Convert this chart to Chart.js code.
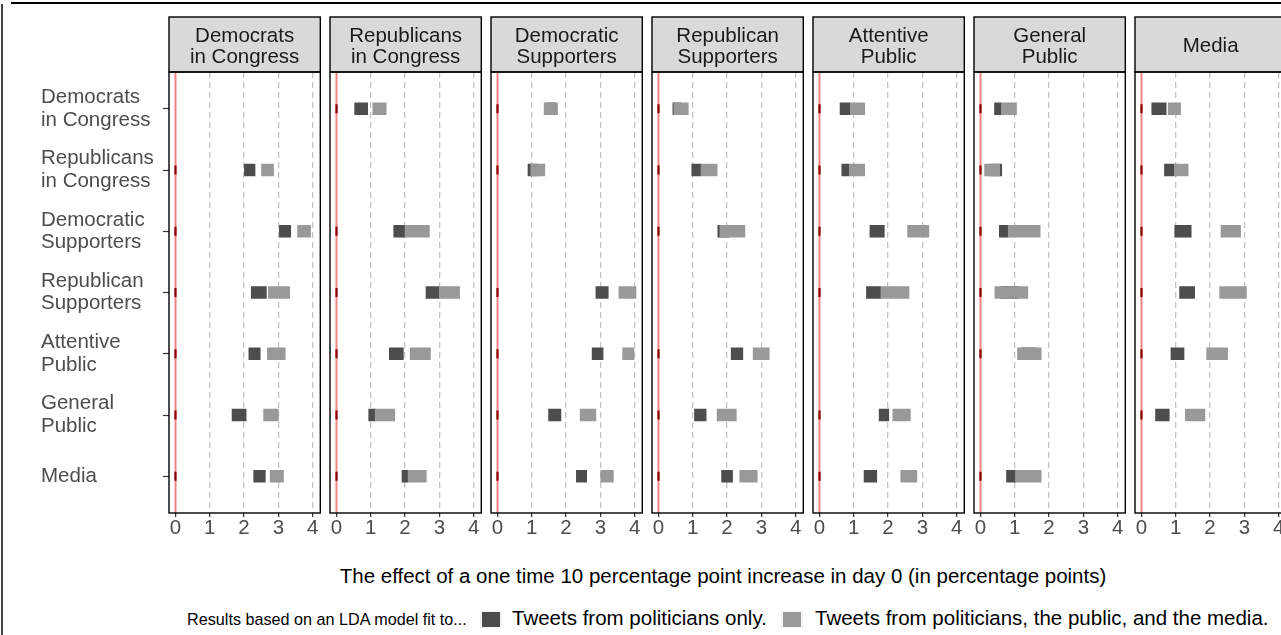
<!DOCTYPE html>
<html><head><meta charset="utf-8">
<script src="https://cdn.jsdelivr.net/npm/chart.js@4.4.1/dist/chart.umd.min.js"></script>
<style>
html,body{margin:0;padding:0;background:#fff;overflow:hidden;}
#wrap{position:relative;width:1281px;height:635px;overflow:hidden;background:#fff;font-family:"Liberation Sans",Arial,Helvetica,sans-serif;}
#wrap canvas{position:absolute;}
.t{position:absolute;white-space:nowrap;}
</style></head>
<body><div id="wrap">
<div style="position:absolute;left:11px;top:2px;width:1275px;height:1.5px;background:#000;"></div>
<div style="position:absolute;left:1px;top:4px;width:1.5px;height:640px;background:#444;"></div>
<div class="t" id="xtitle" style="left:723px;top:564px;font-size:20.5px;line-height:24px;color:#000;transform:translateX(-50%);">The effect of a one time 10 percentage point increase in day 0 (in percentage points)</div>
<div class="t" style="left:187px;top:610px;font-size:16.2px;line-height:18px;color:#000;">Results based on an LDA model fit to...</div>
<div style="position:absolute;left:480px;top:611px;width:22px;height:17px;background:#f2f2f2;"><div style="position:absolute;left:2px;top:1px;width:18px;height:15px;background:#4d4d4d;"></div></div>
<div class="t" style="left:512px;top:606px;font-size:20.5px;line-height:24px;color:#000;">Tweets from politicians only.</div>
<div style="position:absolute;left:781px;top:611px;width:22px;height:17px;background:#f2f2f2;"><div style="position:absolute;left:2px;top:1px;width:18px;height:15px;background:#999999;"></div></div>
<div class="t" style="left:815px;top:606px;font-size:20.5px;line-height:24px;color:#000;">Tweets from politicians, the public, and the media.</div>
</div>
<script>
// ---- data ----
const categories = ["Democrats in Congress","Republicans in Congress","Democratic Supporters","Republican Supporters","Attentive Public","General Public","Media"];
const categoryLabels = [["Democrats","in Congress"],["Republicans","in Congress"],["Democratic","Supporters"],["Republican","Supporters"],["Attentive","Public"],["General","Public"],["Media"]];
const xTicks = [0,1,2,3,4];
const sameDayEffect = [0,0,0,0,0,0,0];

// [low, high] per row (rows = categories); "Politicians" = model fit on politicians' tweets only, "All" = politicians, public and media
const demCongressPoliticians = [null,[2.01,2.32],[3.03,3.36],[2.21,2.65],[2.14,2.47],[1.65,2.06],[2.28,2.62]];
const demCongressAll         = [null,[2.51,2.86],[3.56,3.94],[2.71,3.33],[2.68,3.20],[2.57,3.00],[2.76,3.15]];
const repCongressPoliticians = [[0.53,0.91],null,[1.67,2.00],[2.61,3.00],[1.54,1.95],[0.94,1.13],[1.91,2.09]];
const repCongressAll         = [[1.06,1.45],null,[2.00,2.71],[3.00,3.59],[2.15,2.74],[1.13,1.70],[2.09,2.62]];
const demSupportersPoliticians = [[1.42,1.68],[0.89,1.15],null,[2.87,3.23],[2.76,3.08],[1.49,1.85],[2.30,2.60]];
const demSupportersAll         = [[1.36,1.75],[0.97,1.38],null,[3.54,4.04],[3.65,3.98],[2.41,2.87],[3.01,3.38]];
const repSupportersPoliticians = [[0.42,0.65],[0.97,1.24],[1.73,2.05],null,[2.12,2.46],[1.05,1.39],[1.84,2.16]];
const repSupportersAll         = [[0.45,0.87],[1.24,1.71],[1.79,2.52],null,[2.76,3.23],[1.71,2.27],[2.37,2.88]];
const attentivePoliticians = [[0.60,0.90],[0.65,0.87],[1.47,1.89],[1.37,1.79],null,[1.74,2.02],[1.30,1.67]];
const attentiveAll         = [[0.90,1.32],[0.87,1.32],[2.57,3.19],[1.79,2.61],null,[2.14,2.65],[2.37,2.84]];
const generalPoliticians = [[0.41,0.61],[0.30,0.62],[0.55,0.81],[0.60,1.10],[1.20,1.60],null,[0.76,1.02]];
const generalAll         = [[0.61,1.05],[0.12,0.56],[0.81,1.74],[0.42,1.38],[1.08,1.77],null,[1.02,1.77]];
const mediaPoliticians = [[0.30,0.72],[0.67,0.96],[0.97,1.45],[1.11,1.55],[0.86,1.24],[0.41,0.81],null];
const mediaAll         = [[0.78,1.14],[0.96,1.36],[2.32,2.89],[2.28,3.06],[1.90,2.51],[1.28,1.85],null];

const panels = [
  {label: categoryLabels[0], dark: demCongressPoliticians, light: demCongressAll},
  {label: categoryLabels[1], dark: repCongressPoliticians, light: repCongressAll},
  {label: categoryLabels[2], dark: demSupportersPoliticians, light: demSupportersAll},
  {label: categoryLabels[3], dark: repSupportersPoliticians, light: repSupportersAll},
  {label: categoryLabels[4], dark: attentivePoliticians, light: attentiveAll},
  {label: categoryLabels[5], dark: generalPoliticians, light: generalAll},
  {label: categoryLabels[6], dark: mediaPoliticians, light: mediaAll}
];

// ---- layout ----
const FONT = '"Liberation Sans", Arial, Helvetica, sans-serif';
const PANEL_LEFT0 = 169, PANEL_STEP = 161, PANEL_W = 152;
const CANVAS_TOP = 12, PAD_TOP = 60, PLOT_BOTTOM = 513, XAXIS_H = 40;
const CANVAS_H = PLOT_BOTTOM - CANVAS_TOP + XAXIS_H;
const wrap = document.getElementById('wrap');

const deco = {
  id: 'deco',
  beforeDatasetsDraw(chart) {
    const {ctx, chartArea: a, scales: {x}} = chart;
    const px = x.getPixelForValue(0);
    ctx.save();
    ctx.strokeStyle = 'rgba(236,110,110,0.85)';
    ctx.lineWidth = 2;
    ctx.beginPath(); ctx.moveTo(px, a.top); ctx.lineTo(px, a.bottom); ctx.stroke();
    ctx.restore();
  },
  afterDraw(chart) {
    const {ctx, chartArea: a} = chart;
    const lines = chart.options.plugins.deco.lines;
    ctx.save();
    const sTop = a.top - 55;
    ctx.fillStyle = '#d9d9d9';
    ctx.fillRect(a.left, sTop, a.right - a.left, 55);
    ctx.strokeStyle = '#000'; ctx.lineWidth = 1.4;
    ctx.strokeRect(a.left, sTop, a.right - a.left, 55);
    ctx.fillStyle = '#1a1a1a';
    ctx.font = '20.5px ' + FONT;
    ctx.textAlign = 'center'; ctx.textBaseline = 'middle';
    const cx = (a.left + a.right) / 2, cy = sTop + 29.5;
    const lh = 21;
    lines.forEach((s, i) => ctx.fillText(s, cx, cy + (i - (lines.length - 1) / 2) * lh));
    ctx.strokeRect(a.left, a.top, a.right - a.left, a.bottom - a.top);
    ctx.restore();
  }
};

panels.forEach((p, pi) => {
  const first = pi === 0;
  const areaLeft = PANEL_LEFT0 + PANEL_STEP * pi;
  const padLeft = first ? 41 : 10;
  const yW = first ? areaLeft - padLeft : 0;
  const canvasLeft = first ? 0 : areaLeft - padLeft;
  const padRight = 6;
  const width = padLeft + yW + PANEL_W + padRight;
  const cv = document.createElement('canvas');
  cv.width = width; cv.height = CANVAS_H;
  cv.style.left = canvasLeft + 'px'; cv.style.top = CANVAS_TOP + 'px';
  cv.style.width = width + 'px'; cv.style.height = CANVAS_H + 'px';
  wrap.appendChild(cv);

  const toData = arr => arr.map((v, i) => v ? {y: i, x: v} : null).filter(Boolean);
  const zeroData = sameDayEffect.map((v, i) => i === pi ? null : {x: v, y: i}).filter(Boolean);

  new Chart(cv, {
    type: 'bar',
    data: {
      datasets: [
        {type: 'scatter', data: zeroData, order: 0, pointStyle: 'line', rotation: 90, radius: 4.5,
         borderColor: '#8b0000', backgroundColor: '#8b0000', borderWidth: 2.2, hoverRadius: 4.5},
        {label: 'Tweets from politicians, the public, and the media.', data: toData(p.light), order: 1,
         backgroundColor: '#999999', barThickness: 12, grouped: false, borderWidth: 0},
        {label: 'Tweets from politicians only.', data: toData(p.dark), order: 2,
         backgroundColor: '#4d4d4d', barThickness: 12, grouped: false, borderWidth: 0}
      ]
    },
    options: {
      indexAxis: 'y',
      responsive: false,
      animation: false,
      devicePixelRatio: 1,
      layout: {padding: {left: padLeft, right: padRight, top: PAD_TOP, bottom: 0}},
      plugins: {legend: {display: false}, tooltip: {enabled: false}, deco: {lines: p.label}},
      events: [],
      scales: {
        x: {
          type: 'linear', min: -0.189, max: 4.223, position: 'bottom',
          afterBuildTicks: s => { s.ticks = xTicks.map(v => ({value: v})); },
          afterFit: s => { s.height = XAXIS_H; },
          border: {display: false, dash: [6, 4]},
          grid: {
            color: c => (c.tick && c.tick.value === 0) ? 'rgba(0,0,0,0)' : '#c4c4c4',
            lineWidth: 1.3, drawTicks: true, tickLength: 4, tickColor: '#333', tickWidth: 1.2, tickBorderDash: []
          },
          ticks: {autoSkip: false, maxRotation: 0, padding: 1, color: '#4d4d4d',
                  font: {family: FONT, size: 20.5, lineHeight: 1}}
        },
        y: {
          type: 'linear', reverse: true, min: -0.6, max: 6.6, offset: false,
          display: first,
          afterBuildTicks: s => { s.ticks = categories.map((c, i) => ({value: i})); },
          afterFit: s => { if (first) s.width = yW; },
          border: {display: false},
          grid: {drawOnChartArea: false, drawTicks: true, tickLength: 6, tickColor: '#333', tickWidth: 1.2, offset: false},
          ticks: {autoSkip: false, crossAlign: 'far', padding: 4, color: '#4d4d4d',
                  font: {family: FONT, size: 20.5, lineHeight: 1.1},
                  callback: v => categoryLabels[v]}
        }
      }
    },
    plugins: [deco]
  });
});
</script>
</body></html>
